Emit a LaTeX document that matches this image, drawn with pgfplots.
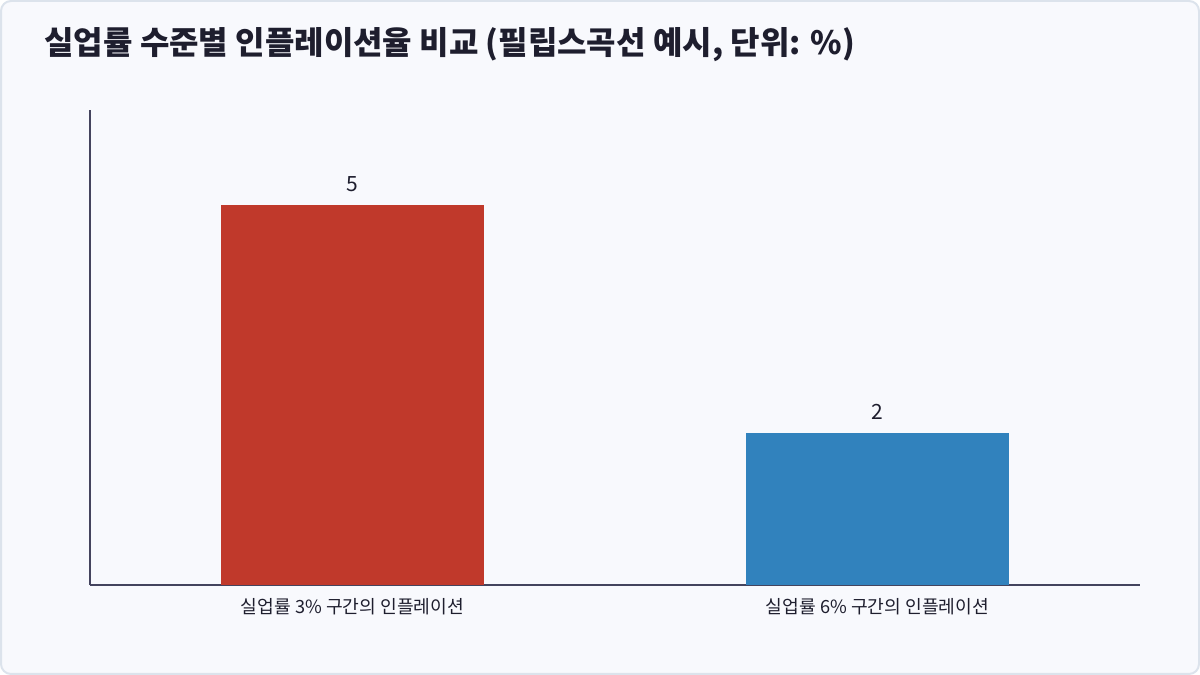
\documentclass[border=0pt]{standalone}
\usepackage{fontspec}
\usepackage{pgfplots}
\pgfplotsset{compat=1.18}
\setmainfont{Noto Sans CJK KR}

\definecolor{bg}{HTML}{F8F9FD}
\definecolor{frame}{HTML}{DCE3EC}
\definecolor{axisc}{HTML}{44445E}
\definecolor{txt}{HTML}{1E1E2E}
\definecolor{barred}{HTML}{C0392B}
\definecolor{barblue}{HTML}{3182BD}

\begin{document}
\begin{tikzpicture}
\useasboundingbox (0,0) rectangle (600pt,337.5pt);
\draw[rounded corners=5pt, fill=bg, draw=frame, line width=1pt] (0.5pt,0.5pt) rectangle (599.5pt,337pt);
\node[anchor=west, font=\bfseries\fontsize{16}{19}\selectfont, text=txt, inner sep=0pt] at (22pt,315pt)
  {실업률 수준별 인플레이션율 비교 (필립스곡선 예시, 단위: \%)};
\begin{axis}[
  at={(45pt,45pt)}, anchor=south west,
  scale only axis, width=525pt, height=237.5pt,
  axis lines=left, axis line style={-, axisc, line width=1pt},
  xmin=-0.5, xmax=1.5, ymin=0, ymax=6.25,
  ytick=\empty,
  xtick={0,1},
  xticklabels={실업률 3\% 구간의 인플레이션, 실업률 6\% 구간의 인플레이션},
  major tick length=0pt,
  xticklabel style={font=\fontsize{9.1}{11}\selectfont, text=txt, yshift=-3pt},
  ybar, bar width=0.5, bar shift=0pt,
  nodes near coords,
  every node near coord/.append style={font=\fontsize{10.5}{12}\selectfont, text=txt, yshift=3pt,
    /pgf/number format/assume math mode=true},
  clip=false,
]
\addplot[draw=none, fill=barred] coordinates {(0,5)};
\addplot[draw=none, fill=barblue] coordinates {(1,2)};
\end{axis}
\end{tikzpicture}
\end{document}
